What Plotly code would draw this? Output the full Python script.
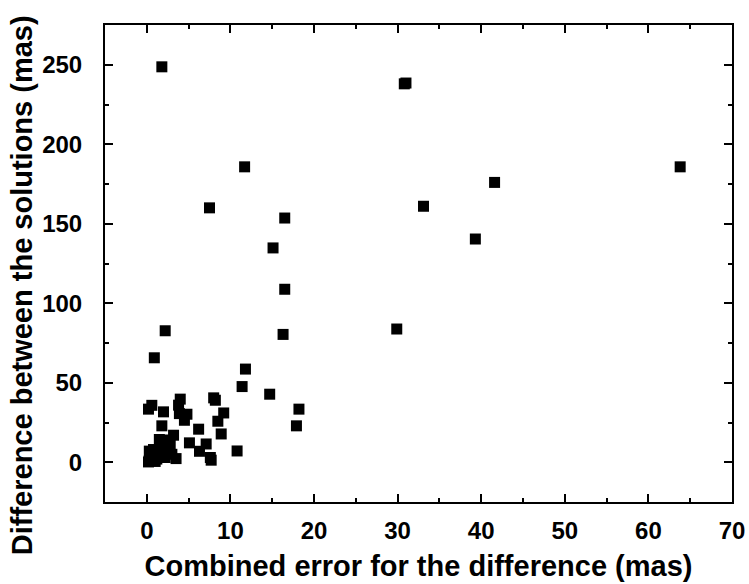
import plotly.graph_objects as go

# Combined error (x) and difference between solutions (y), both in mas
combined_error = [
    1.8, 30.8, 31.0, 11.7, 63.8, 41.6, 33.1, 7.5, 16.5, 15.1, 39.3,
    16.5, 16.3, 29.9, 2.2, 0.9, 11.8, 11.4, 14.7, 18.2, 17.9, 10.8,
    0.2, 0.6, 2.0, 4.0, 3.8, 3.9, 4.8, 4.5, 8.0, 8.2, 9.2, 8.5,
    1.8, 6.2, 8.9, 3.2, 1.5, 5.1, 7.1, 6.3, 7.6, 7.7, 3.5,
    0.3, 0.5, 0.8, 1.2, 1.5, 1.8, 2.2, 2.5, 2.0, 2.8, 1.0, 3.0, 0.3, 0.2,
]
difference = [
    248.7, 238.0, 238.5, 185.8, 185.8, 176.0, 161.0, 160.0, 153.6, 134.8, 140.4,
    108.8, 80.4, 83.8, 82.7, 65.7, 58.6, 47.6, 42.8, 33.4, 22.9, 7.1,
    33.4, 35.8, 31.7, 39.7, 35.9, 30.6, 30.2, 26.4, 40.5, 39.0, 31.0, 25.8,
    22.9, 20.8, 17.8, 17.0, 14.3, 12.2, 11.5, 6.9, 3.0, 1.3, 2.3,
    1.0, 5.0, 8.0, 2.0, 6.0, 10.0, 3.0, 8.0, 14.0, 11.0, 0.5, 5.0, 7.0, 0.2,
]

x_ticks = [0, 10, 20, 30, 40, 50, 60, 70]
y_ticks = [0, 50, 100, 150, 200, 250]

fig = go.Figure(
    go.Scatter(
        x=combined_error,
        y=difference,
        mode="markers",
        marker=dict(symbol="square", size=11, color="black", line=dict(width=0)),
        showlegend=False,
    )
)

font_family = "Liberation Sans, Arial, sans-serif"
axis_common = dict(
    showline=True,
    linecolor="black",
    linewidth=2,
    mirror="ticks",
    ticks="inside",
    ticklen=8,
    tickwidth=2,
    tickcolor="black",
    showgrid=False,
    zeroline=False,
    automargin=False,
    tickfont=dict(family=font_family, size=24, color="black", weight="bold"),
)

fig.update_xaxes(
    range=[-5, 70],
    tickvals=x_ticks,
    ticktext=[str(v) for v in x_ticks],
    minor=dict(dtick=5, ticks="inside", ticklen=4, tickwidth=2, tickcolor="black", tick0=0),
    ticklabelstandoff=6,
    title=dict(
        text="Combined error for the difference (mas)",
        font=dict(family=font_family, size=29, color="black", weight="bold"),
        standoff=13,
    ),
    **axis_common,
)
fig.update_yaxes(
    range=[-25, 275],
    tickvals=y_ticks,
    ticktext=[str(v) for v in y_ticks],
    minor=dict(dtick=25, ticks="inside", ticklen=4, tickwidth=2, tickcolor="black", tick0=0),
    ticklabelstandoff=16,
    **axis_common,
)

# Vertical axis title, placed as a rotated annotation
fig.add_annotation(
    text="Difference between the solutions (mas)",
    xref="paper", yref="paper",
    x=-0.132, y=0.455,
    xanchor="center", yanchor="middle",
    textangle=-90,
    showarrow=False,
    font=dict(family=font_family, size=29, color="black", weight="bold"),
)

fig.update_layout(
    width=749,
    height=584,
    margin=dict(l=105, r=17, t=25, b=82),
    paper_bgcolor="white",
    plot_bgcolor="white",
)

fig.write_html("out.html")
